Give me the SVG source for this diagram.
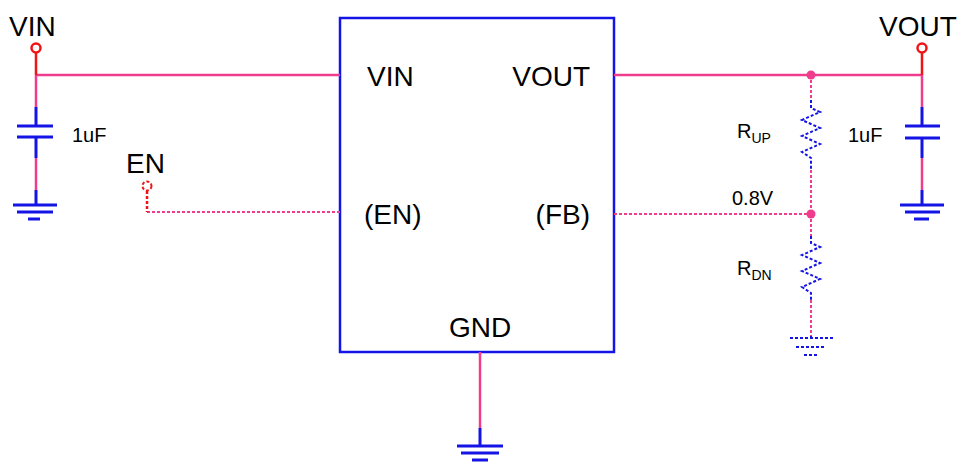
<svg xmlns="http://www.w3.org/2000/svg" width="966" height="468" viewBox="0 0 966 468">
<style>
text{font-family:"Liberation Sans",Arial,sans-serif;fill:#000}
.p{stroke:#f03c8c;stroke-width:2.5;fill:none}
.b{stroke:#1414e6;stroke-width:3;fill:none}
.r{stroke:#f01414;stroke-width:2.5;fill:none}
.pd{stroke:#f03c8c;stroke-width:2;fill:none;stroke-dasharray:3 2}
.bd{stroke:#1414e6;stroke-width:2;fill:none;stroke-dasharray:3 2}
</style>
<rect width="966" height="468" fill="#fff"/>
<g id="chip">
<rect x="340" y="18" width="274" height="334" fill="none" stroke="#1414e6" stroke-width="2.5"/>
<text x="367" y="86" font-size="28">VIN</text>
<text x="590" y="86" font-size="28" text-anchor="end">VOUT</text>
<text x="364" y="224" font-size="28">(EN)</text>
<text x="590" y="224" font-size="28" text-anchor="end">(FB)</text>
<text x="480" y="337" font-size="28" text-anchor="middle">GND</text>
</g>
<g id="connectors">
<path class="p" d="M36 75H340M614 75H922"/>
<path class="r" d="M36 53V75M922 53V75"/>
<path class="pd" d="M147 212H340M614 214H811"/>
<path class="r" d="M147 191V212" stroke-dasharray="3 2" stroke-width="2"/>
<path class="p" d="M480 352V428"/>
<path class="b" d="M480 428V446"/>
</g>
<g id="vin">
<circle cx="36" cy="48" r="4.5" fill="#fff" stroke="#f01414" stroke-width="2.5"/>
<text x="9" y="36" font-size="28">VIN</text>
</g>
<g id="cin">
<path class="p" d="M36 75V107M36 158V190"/>
<path class="b" d="M36 107V126M36 137V158M36 190V205M17 126H53M17 137H53M13 205H57M17 212H53M28 219H40"/>
<text x="72" y="142" font-size="20">1uF</text>
</g>
<g id="en">
<circle cx="147" cy="186" r="4.5" fill="#fff" stroke="#f01414" stroke-width="2" stroke-dasharray="3 2"/>
<text x="126" y="173" font-size="28">EN</text>
</g>
<g id="vout">
<circle cx="922" cy="48" r="4.5" fill="#fff" stroke="#f01414" stroke-width="2.5"/>
<text x="879" y="36" font-size="28">VOUT</text>
</g>
<g id="cout">
<path class="p" d="M922 75V107M922 158V190"/>
<path class="b" d="M922 107V126M922 137V158M922 190V205M905 126H940M905 138H940M900 205H944M905 212H940M914 219H929"/>
<text x="848" y="142" font-size="20">1uF</text>
</g>
<g id="rup">
<circle cx="811" cy="75" r="4.5" fill="#f03c8c"/>
<path class="pd" d="M811 75V100M811 170V214"/>
<path class="bd" d="M811 100V108L820 112L802 120L820 128L802 136L820 144L802 152L811 158V170"/>
<text x="737" y="138" font-size="20">R<tspan font-size="14" dy="5">UP</tspan></text>
<text x="732" y="205" font-size="20">0.8V</text>
</g>
<g id="rdn">
<circle cx="811" cy="214" r="4.5" fill="#f03c8c"/>
<path class="pd" d="M811 214V236M811 300V336"/>
<path class="bd" d="M811 236V243L820 247L802 255L820 263L802 271L820 279L802 287L811 293V300M811 336V338M790 338H833M796 347H826M804 355H818"/>
<text x="737" y="275" font-size="20">R<tspan font-size="14" dy="5">DN</tspan></text>
</g>
<g id="gnd">
<path class="b" d="M457 446H503M461 453H499M472 460H488"/>
</g>
</svg>
